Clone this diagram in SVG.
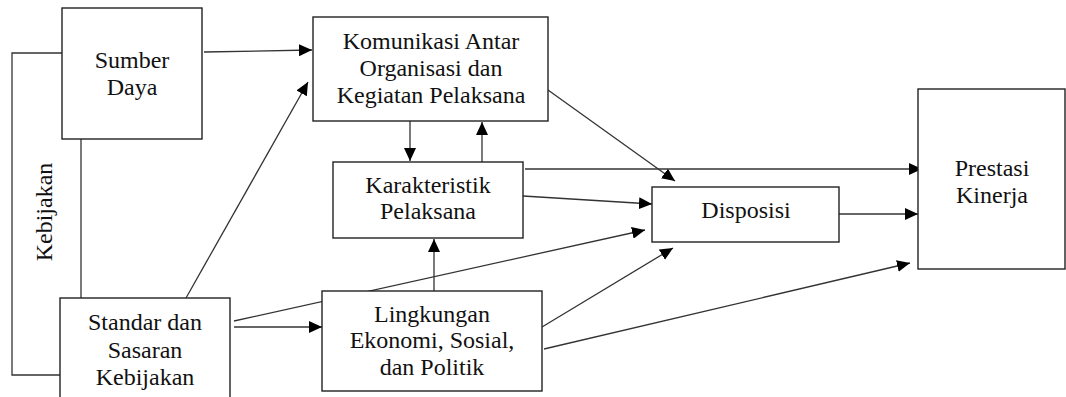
<svg xmlns="http://www.w3.org/2000/svg" width="1066" height="397" viewBox="0 0 1066 397">
<style>
.box{fill:#fff;stroke:#222;stroke-width:1.4}
.t{font-family:"Liberation Serif","Times New Roman",serif;font-size:24px;fill:#111;text-anchor:middle}
.c{fill:none;stroke:#333;stroke-width:1.3}
.a{marker-end:url(#ah)}
</style>
<defs>
<marker id="ah" markerUnits="userSpaceOnUse" markerWidth="14" markerHeight="12" refX="13" refY="6" orient="auto">
<path d="M0,0 L13,6 L0,12 z" fill="#000"/>
</marker>
</defs>
<rect width="1066" height="397" fill="#fff"/>
<g id="connectors">
<polyline class="c" points="62,53 12,53 12,375 60,375"/>
<line class="c" x1="81" y1="139" x2="81" y2="298"/>
<line class="c a" x1="204" y1="52" x2="312" y2="50"/>
<line class="c a" x1="186" y1="298" x2="308" y2="82"/>
<line class="c a" x1="410" y1="121" x2="410" y2="161"/>
<line class="c a" x1="482" y1="162" x2="482" y2="122"/>
<line class="c a" x1="548" y1="90" x2="675" y2="181"/>
<line class="c a" x1="525" y1="169" x2="922" y2="169"/>
<line class="c a" x1="523" y1="196" x2="652" y2="204"/>
<line class="c a" x1="839" y1="214" x2="918" y2="214"/>
<line class="c a" x1="234" y1="321" x2="645" y2="230"/>
<line class="c a" x1="234" y1="327" x2="322" y2="327"/>
<line class="c a" x1="434" y1="291" x2="434" y2="239"/>
<line class="c a" x1="542" y1="327" x2="673" y2="248"/>
<line class="c a" x1="544" y1="349" x2="910" y2="263"/>
</g>
<g id="kebijakan-label">
<text class="t" transform="translate(52,212) rotate(-90)" x="0" y="0">Kebijakan</text>
</g>
<g id="sumber-daya">
<rect class="box" x="62" y="8" width="140" height="131"/>
<text class="t" x="132" y="68">Sumber</text>
<text class="t" x="132" y="95">Daya</text>
</g>
<g id="komunikasi">
<rect class="box" x="313" y="17" width="235" height="104"/>
<text class="t" x="431" y="49">Komunikasi Antar</text>
<text class="t" x="431" y="76">Organisasi dan</text>
<text class="t" x="431" y="103">Kegiatan Pelaksana</text>
</g>
<g id="karakteristik">
<rect class="box" x="333" y="162" width="190" height="76"/>
<text class="t" x="428" y="193">Karakteristik</text>
<text class="t" x="428" y="219">Pelaksana</text>
</g>
<g id="disposisi">
<rect class="box" x="652" y="187" width="187" height="55"/>
<text class="t" x="746" y="218">Disposisi</text>
</g>
<g id="prestasi">
<rect class="box" x="918" y="89" width="147" height="180"/>
<text class="t" x="992" y="176">Prestasi</text>
<text class="t" x="992" y="203">Kinerja</text>
</g>
<g id="standar">
<rect class="box" x="60" y="298" width="170" height="102"/>
<text class="t" x="145" y="330">Standar dan</text>
<text class="t" x="145" y="358">Sasaran</text>
<text class="t" x="145" y="385">Kebijakan</text>
</g>
<g id="lingkungan">
<rect class="box" x="322" y="291" width="220" height="100"/>
<text class="t" x="432" y="322">Lingkungan</text>
<text class="t" x="432" y="348">Ekonomi, Sosial,</text>
<text class="t" x="432" y="375">dan Politik</text>
</g>
</svg>
